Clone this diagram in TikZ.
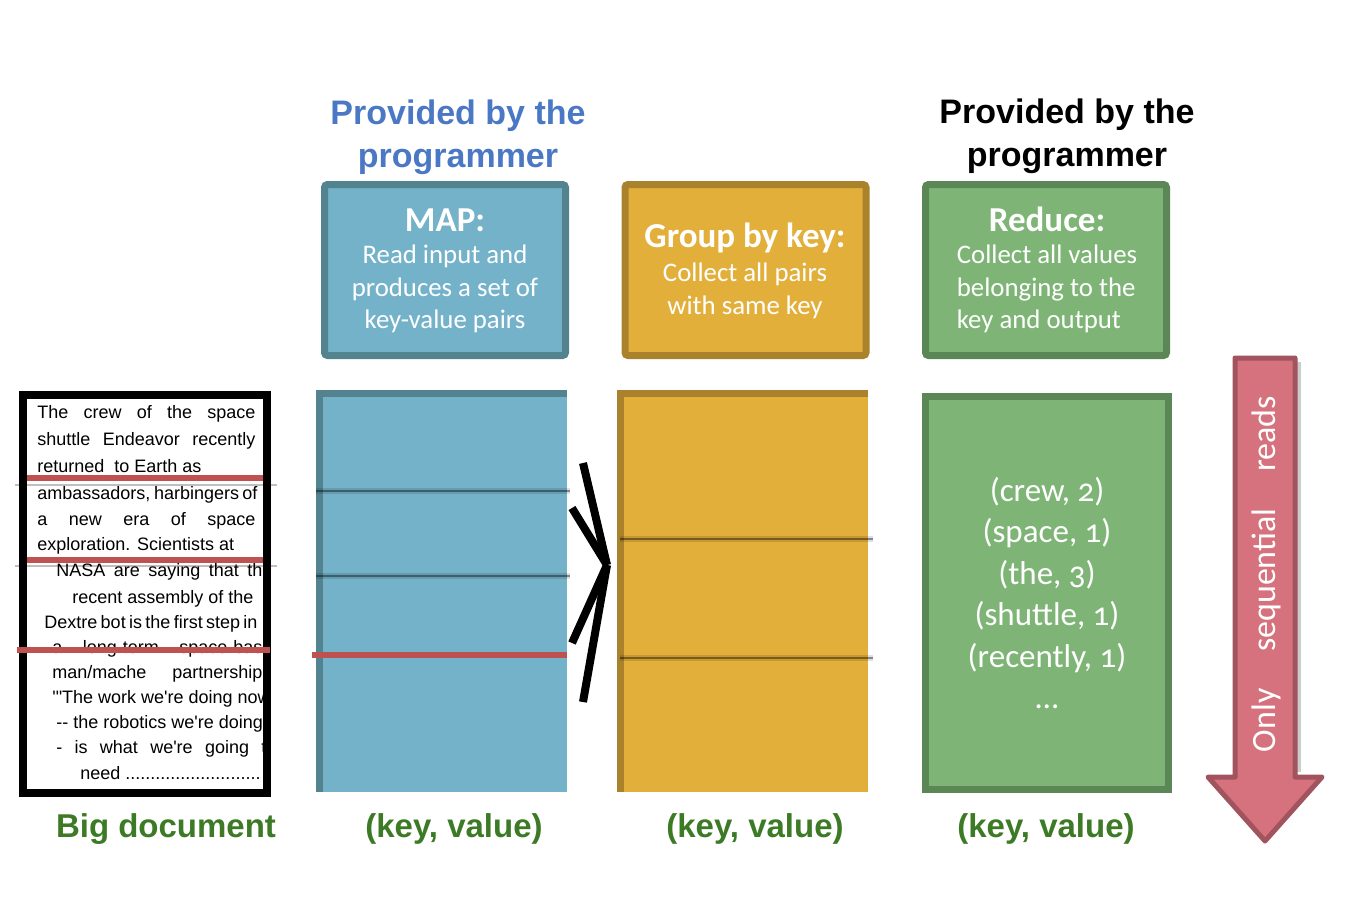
\documentclass[tikz,border=0pt]{standalone}
\usepackage{fontspec}
\setmainfont{Liberation Sans}
\newfontfamily\calibri{Carlito}
\newfontfamily\calibrionum{Carlito}[Numbers=OldStyle]
\newfontfamily\docfont{Liberation Sans}[Ligatures=TeXOff]
\usepackage{tikz}
\usetikzlibrary{positioning}
\usepackage{xcolor}
\definecolor{mapblue}{HTML}{74B2CA}
\definecolor{mapbluedk}{HTML}{52838F}
\definecolor{grpyellow}{HTML}{E3AF3B}
\definecolor{grpyellowdk}{HTML}{AB822C}
\definecolor{redgreen}{HTML}{7EB576}
\definecolor{redgreendk}{HTML}{5B8656}
\definecolor{arrowred}{HTML}{D6727D}
\definecolor{arrowreddk}{HTML}{A1535E}
\definecolor{splitred}{HTML}{BE5250}
\definecolor{titleblue}{HTML}{4A78C4}
\definecolor{labelgreen}{HTML}{3C7A26}

\begin{document}
\begin{tikzpicture}[x=0.5pt, y=-0.5pt,
    headbox/.style={draw, line width=3.5pt, rounded corners=1.5pt,
                    minimum width=120.5pt, minimum height=85.5pt},
    colbox/.style={inner sep=0pt, minimum width=125.5pt, minimum height=201pt},
    title/.style={font=\fontsize{17}{21.5}\selectfont\bfseries, align=center},
    boxhead/.style={font=\calibri\fontsize{17.5}{20}\selectfont\bfseries, text=white},
    boxbody/.style={font=\calibri\fontsize{13.4}{16.25}\selectfont, text=white},
    kvlabel/.style={font=\fontsize{16.5}{20}\selectfont\bfseries, text=labelgreen},
    splitline/.style={line width=1.4pt, draw=black, draw opacity=.4,
                      preaction={draw=black, line width=3.2pt, draw opacity=.12}},
    redsplit/.style={line width=3pt, draw=splitred},
    chev/.style={line width=4pt, black}
  ]
    \useasboundingbox (0,0) rectangle (1350,902);

    % titles
    \node[title, titleblue] (maptitle) at (458,137.5) {Provided by the\\programmer};
    \node[title, black] (redtitle) at (1067,136.5) {Provided by the\\programmer};

    % header boxes
    \node[headbox, fill=mapblue, draw=mapbluedk] (maphead) at (445,270) {};
    \node[boxhead] (mapname) at (445,220) {MAP:};
    \node[boxbody, align=center] (mapdesc) at (445,289)
      {Read input and\\produces a set of\\key-value pairs};

    \node[headbox, fill=grpyellow, draw=grpyellowdk] (grphead) at (745.5,270) {};
    \node[boxhead] (grpname) at (745,238) {Group by key:};
    \node[boxbody, align=center] (grpdesc) at (745,291)
      {Collect all pairs\\with same key};

    \node[headbox, fill=redgreen, draw=redgreendk] (redhead) at (1046,270) {};
    \node[boxhead] (redname) at (1047,219) {Reduce:};
    \node[boxbody, align=left] (reddesc) at (1047,289)
      {Collect all values\\belonging to the\\key and output};

    % input document
    \begin{scope}
      \clip (27,399) rectangle (263,789);
      \foreach \y/\x/\t in {
          412/37/{\makebox[109pt][s]{The crew of the space}},
          439/37/{\makebox[109pt][s]{shuttle Endeavor recently}},
          466/37/{returned\ \ to Earth as},
          493/37/{\makebox[109pt][s]{ambassadors, harbingers of}},
          519/37/{\makebox[109pt][s]{a new era of space}},
          544/37/{exploration. Scientists at},
          570/56/{\makebox[108pt][s]{NASA are saying that the}},
          597/72/{recent assembly of the},
          622/44/{\makebox[104.5pt][s]{Dextre bot is the first step in}},
          647/52/{\makebox[115pt][s]{a long-term space-based}},
          672/52/{\makebox[105pt][s]{man/mache partnership}},
          697/52/{'"The work we're doing now},
          722/56/{-- the robotics we're doing --},
          747/56/{\makebox[110pt][s]{- is what we're going to}},
          773/80/{need ...........................}}
        \node[font=\docfont\fontsize{9}{10}\selectfont, anchor=base west,
              inner sep=0pt] at (\x,\y+6) {\t};
    \end{scope}
    \node[draw, line width=4pt, minimum width=122pt, minimum height=199pt]
      (doc) at (145,594) {};
    \draw[line width=1.4pt, black, opacity=.25] (15,485) -- (277,485);
    \draw[line width=1.4pt, black, opacity=.25] (15,566) -- (277,566);
    \draw[redsplit] (27,478) -- (263,478);
    \draw[redsplit] (27,560) -- (263,560);
    \draw[redsplit] (17,650) -- (270,650);

    % map column
    \node[colbox, fill=mapblue] (mapcol) at (441.5,591) {};
    \draw[line width=3.5pt, mapbluedk] ([xshift=1.75pt]mapcol.south west)
      |- ([yshift=-1.75pt]mapcol.north east);
    \draw[splitline] (316,491) -- (570,491);
    \draw[splitline] (316,576) -- (570,576);
    \draw[redsplit] (312,655) -- (567,655);

    % shuffle
    \coordinate (shuffle) at (607,565);
    \draw[chev] (583,463) -- (shuffle);
    \draw[chev] (572,508) -- (shuffle);
    \draw[chev] (shuffle) -- (572,643);
    \draw[chev] (shuffle) -- (583,702);

    % group column
    \node[colbox, fill=grpyellow] (grpcol) at (742.5,591) {};
    \draw[line width=3.5pt, grpyellowdk] ([xshift=1.75pt]grpcol.south west)
      |- ([yshift=-1.75pt]grpcol.north east);
    \draw[splitline] (620,539) -- (873,539);
    \draw[splitline] (620,658) -- (873,658);

    % reduce column
    \node[draw=redgreendk, fill=redgreen, line width=3.5pt, minimum width=121.5pt,
          minimum height=196.5pt, font=\calibrionum\fontsize{16.5}{20.75}\selectfont,
          text=white, align=center] (redcol) at (1047,593)
      {(crew, 2)\\(space, 1)\\(the, 3)\\(shuttle, 1)\\(recently, 1)\\\dots};

    % sequential reads
    \draw[line width=2pt, black, opacity=.2] (1299,362) -- (1299,772);
    \draw[line width=2.5pt, draw=arrowreddk, fill=arrowred, line join=round]
      (1235,358) -- (1295,358) -- (1295,777) -- (1322,777) -- (1265,841)
      -- (1208,777) -- (1235,777) -- cycle;
    \node[rotate=90, text=white, font=\calibri\fontsize{17}{20}\selectfont]
      (seqtext) at (1266,574) {\makebox[178pt][s]{Only sequential reads}};

    % labels
    \node[kvlabel] (doclabel) at (166,829) {Big document};
    \node[kvlabel] (maplabel) at (454,829) {(key, value)};
    \node[kvlabel] (grplabel) at (755,829) {(key, value)};
    \node[kvlabel] (redlabel) at (1046,829) {(key, value)};
  \end{tikzpicture}
\end{document}
